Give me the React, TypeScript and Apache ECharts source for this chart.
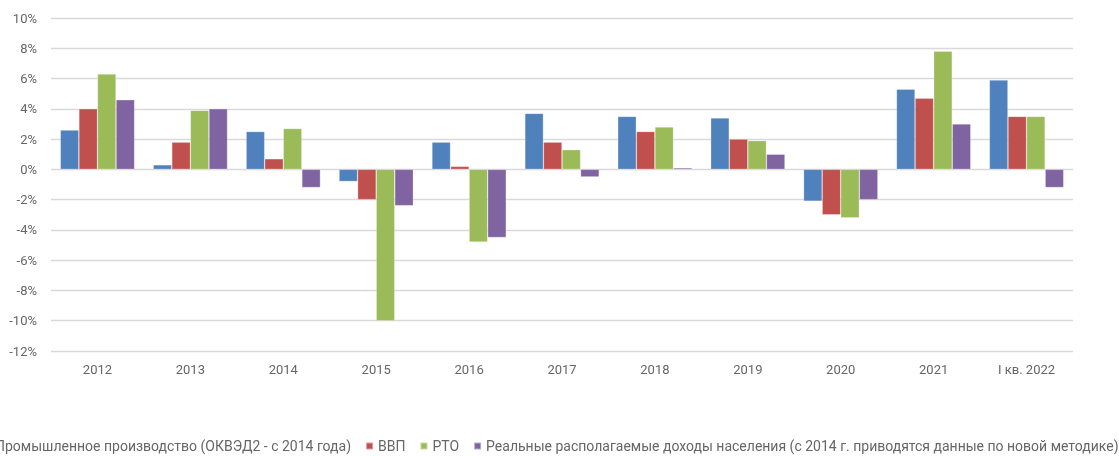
import React, { useEffect, useRef } from "react";
import * as echarts from "echarts";

const categories = ["2012", "2013", "2014", "2015", "2016", "2017", "2018", "2019", "2020", "2021", "I кв. 2022"];
const seriesNames = [
  "Промышленное производство (ОКВЭД2 - с 2014 года)",
  "ВВП",
  "РТО",
  "Реальные располагаемые доходы населения (с 2014 г. приводятся данные по новой методике)",
];
const industry = [2.6, 0.3, 2.5, -0.8, 1.8, 3.7, 3.5, 3.4, -2.1, 5.3, 5.9];
const gdp = [4.0, 1.8, 0.7, -2.0, 0.2, 1.8, 2.5, 2.0, -3.0, 4.7, 3.5];
const retail = [6.3, 3.9, 2.7, -10.0, -4.8, 1.3, 2.8, 1.9, -3.2, 7.8, 3.5];
const income = [4.6, 4.0, -1.2, -2.4, -4.5, -0.5, 0.1, 1.0, -2.0, 3.0, -1.2];
const colors = ["#4F81BD", "#C0504D", "#9BBB59", "#8064A2"];

export default function App() {
  const ref = useRef<HTMLDivElement>(null);
  useEffect(() => {
    if (!ref.current) return;
    const chart = echarts.init(ref.current, undefined, { renderer: "svg" });
    const data = [industry, gdp, retail, income];
    chart.setOption({
      animation: false,
      color: colors,
      textStyle: { fontFamily: "Roboto" },
      grid: { left: 51, right: 46, top: 18, bottom: 105, containLabel: false },
      legend: {
        bottom: -2,
        left: -23,
        width: 1400,
        itemWidth: 7,
        itemHeight: 7,
        itemGap: 14,
        icon: "rect",
        textStyle: { color: "#666666", fontSize: 14, fontFamily: "Roboto" },
        data: seriesNames,
      },
      xAxis: {
        type: "category",
        data: categories,
        axisLine: { show: false, onZero: false },
        axisTick: { show: false },
        axisLabel: { color: "#666666", fontSize: 13, margin: 12 },
      },
      yAxis: {
        type: "value",
        min: -12,
        max: 10,
        interval: 2,
        axisLabel: { color: "#666666", fontSize: 13, margin: 14, formatter: "{value}%" },
        splitLine: { lineStyle: { color: "#D9D9D9", width: 1.3 } },
        axisLine: { show: false },
        axisTick: { show: false },
      },
      series: data.map((d, i) => ({
        name: seriesNames[i],
        type: "bar",
        data: d,
        barGap: "0%",
        barCategoryGap: "20%",
        itemStyle: { borderColor: "rgba(255,255,255,0.45)", borderWidth: 0.6 },
      })),
    });
    return () => chart.dispose();
  }, []);
  return <div ref={ref} style={{ position: "fixed", left: 0, top: 0, width: 1119, height: 456, overflow: "hidden" }} />;
}
